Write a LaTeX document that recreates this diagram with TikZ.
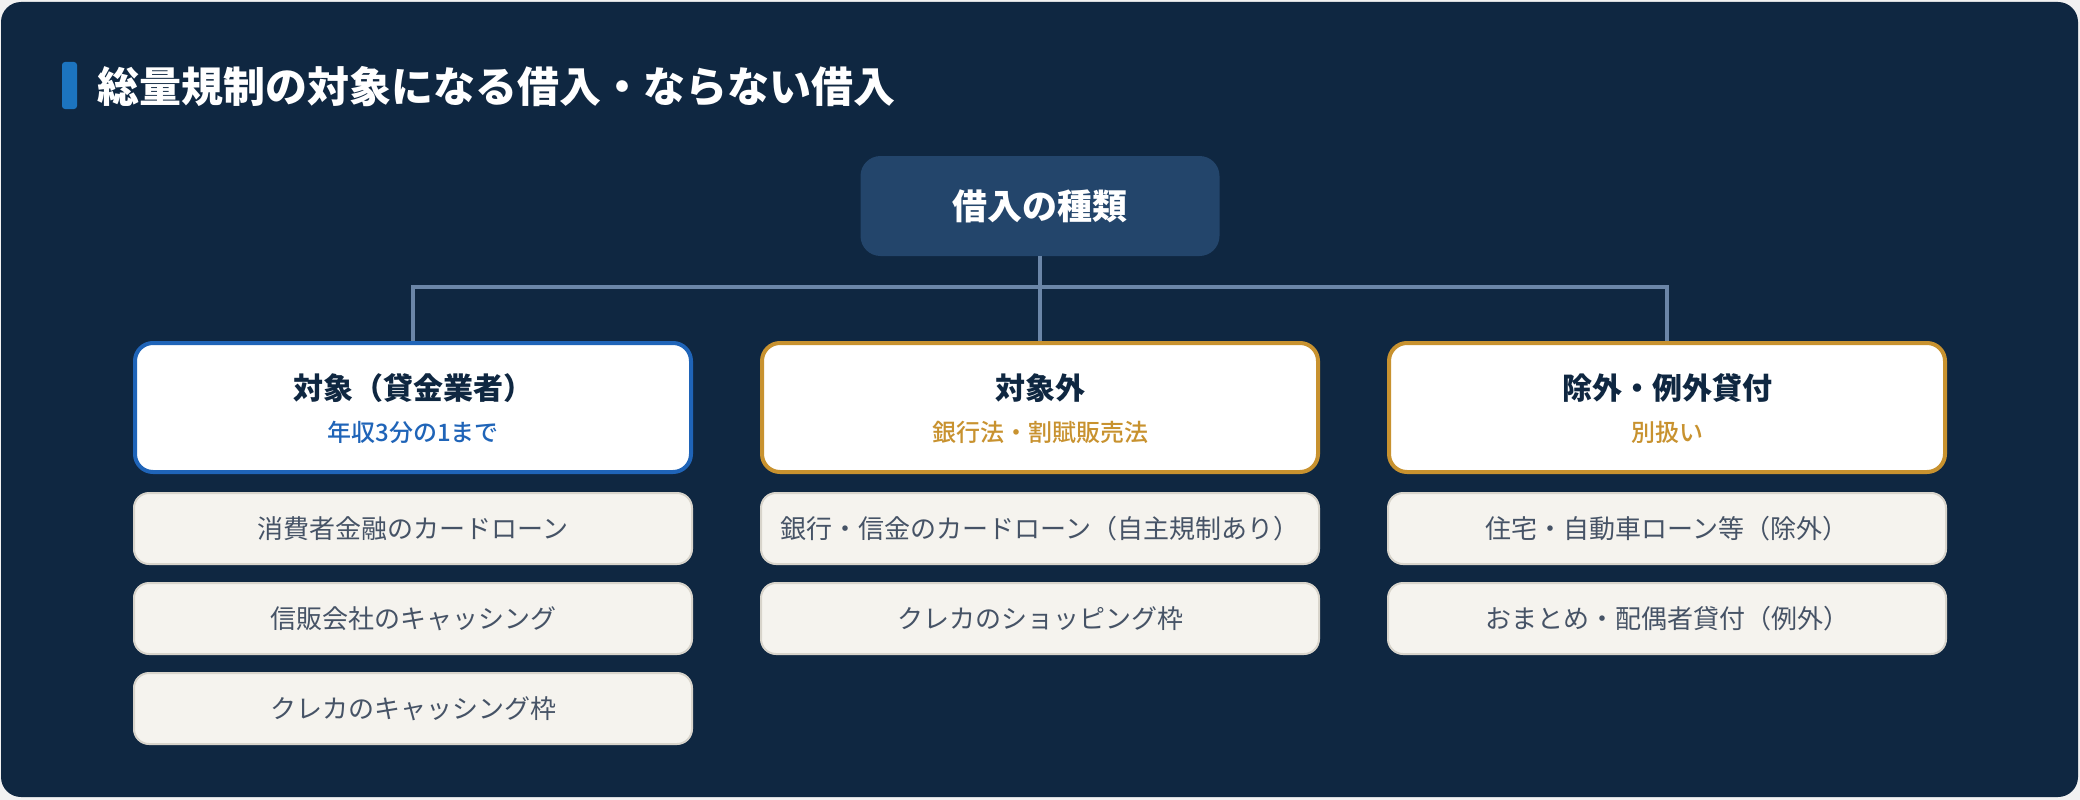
\documentclass[tikz,border=0pt]{standalone}
\usepackage{fontspec}
\setmainfont{Noto Sans CJK JP}
\IfFontExistsTF{Noto Sans CJK JP Medium}
    {\newfontfamily\subfont{Noto Sans CJK JP Medium}}
    {\newcommand\subfont{\mdseries}}
\usepackage{tikz}
\usetikzlibrary{positioning}

\definecolor{navy}{HTML}{0F2741}
\definecolor{rootfill}{HTML}{23456B}
\definecolor{connline}{HTML}{6B86A8}
\definecolor{accblue}{HTML}{1F64B8}
\definecolor{accgold}{HTML}{C8922F}
\definecolor{itemfill}{HTML}{F5F3EE}
\definecolor{itemline}{HTML}{D8D4CB}
\definecolor{itemtext}{HTML}{465366}
\definecolor{pagebg}{HTML}{F2F2F2}

\tikzset{
    rootbox/.style={fill=rootfill, rounded corners=20pt, minimum width=359pt, minimum height=100pt,
        text=white, font=\bfseries\fontsize{35}{40}\selectfont},
    catbox/.style={draw=#1, line width=4pt, fill=white, rounded corners=18pt,
        minimum width=556pt, minimum height=129pt},
    cattitle/.style={text=navy, font=\bfseries\fontsize{30}{36}\selectfont},
    catsub/.style={text=#1, font=\subfont\fontsize{24}{29}\selectfont},
    itembox/.style={draw=itemline, line width=2pt, fill=itemfill, rounded corners=15pt,
        minimum width=558pt, minimum height=71pt, text=itemtext, font=\fontsize{26}{31}\selectfont},
    conn/.style={draw=connline, line width=3.5pt}
}

\begin{document}
\begin{tikzpicture}[x=1pt, y=-1pt]
            \useasboundingbox (0,0) rectangle (2080,800);
            \fill[pagebg] (0,0) rectangle (2080,800);
            \fill[navy, rounded corners=20pt] (1,2) rectangle (2078,797);
            % heading
            \fill[accblue!90!cyan, rounded corners=3pt] (62,62) rectangle (77,109);
            \node[anchor=west, text=white, font=\bfseries\fontsize{42}{48}\selectfont, inner sep=0pt] (title) at (97,87) {総量規制の対象になる借入・ならない借入};
            % root
            \node[rootbox] (root) at (1040,206) {借入の種類};
            % categories
            \node[catbox=accblue] (catL) at (413,407.5) {};
            \node[catbox=accgold] (catM) at (1040,407.5) {};
            \node[catbox=accgold] (catR) at (1667,407.5) {};
            \node[cattitle] (catLt) at ([yshift=19pt]catL.center) {対象（貸金業者）};
            \node[catsub=accblue] (catLs) at ([yshift=-25pt]catL.center) {年収3分の1まで};
            \node[cattitle] (catMt) at ([yshift=19pt]catM.center) {対象外};
            \node[catsub=accgold] (catMs) at ([yshift=-25pt]catM.center) {銀行法・割賦販売法};
            \node[cattitle] (catRt) at ([yshift=19pt]catR.center) {除外・例外貸付};
            \node[catsub=accgold] (catRs) at ([yshift=-25pt]catR.center) {別扱い};
            % connectors
            \draw[conn] (root.south) -- ++(0,31) -| (catL.north);
            \draw[conn] (root.south) -- ++(0,31) -| (catR.north);
            \draw[conn] (root.south) -- (catM.north);
            % items
            \node[itembox, below=18pt of catL] (l1) {消費者金融のカードローン};
            \node[itembox, below=17pt of l1] (l2) {信販会社のキャッシング};
            \node[itembox, below=17pt of l2] (l3) {クレカのキャッシング枠};
            \node[itembox, below=18pt of catM] (m1) {銀行・信金のカードローン（自主規制あり）};
            \node[itembox, below=17pt of m1] (m2) {クレカのショッピング枠};
            \node[itembox, below=18pt of catR] (r1) {住宅・自動車ローン等（除外）};
            \node[itembox, below=17pt of r1] (r2) {おまとめ・配偶者貸付（例外）};
        \end{tikzpicture}
\end{document}
